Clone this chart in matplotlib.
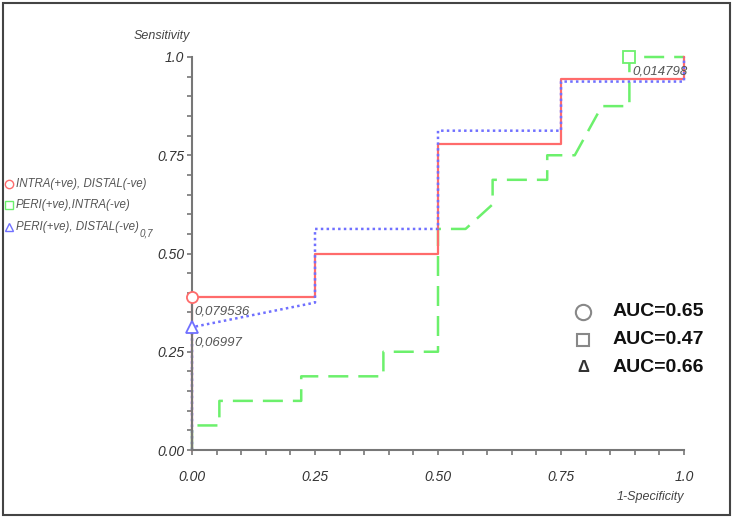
import matplotlib
matplotlib.use("Agg")
import matplotlib.pyplot as plt
from matplotlib.lines import Line2D
from matplotlib.patches import Rectangle
from matplotlib.ticker import MultipleLocator, FixedLocator

plt.rcParams['font.family'] = ['Liberation Sans', 'DejaVu Sans']

# ROC curves (1-specificity, sensitivity)
intra_distal_fpr = [0, 0, 0.25, 0.25, 0.5, 0.5, 0.75, 0.75, 1.0, 1.0]
intra_distal_tpr = [0, 0.389, 0.389, 0.5, 0.5, 0.778, 0.778, 0.944, 0.944, 1.0]

peri_distal_fpr = [0, 0, 0.25, 0.25, 0.5, 0.5, 0.75, 0.75, 1.0, 1.0]
peri_distal_tpr = [0, 0.3125, 0.375, 0.5625, 0.5625, 0.8125, 0.8125, 0.9375, 0.9375, 1.0]

peri_intra_fpr = [0, 0, 0.0556, 0.0556, 0.222, 0.222, 0.389, 0.389, 0.5, 0.5,
                  0.556, 0.611, 0.611, 0.722, 0.722, 0.778, 0.833, 0.889, 0.889, 1.0]
peri_intra_tpr = [0, 0.0625, 0.0625, 0.125, 0.125, 0.1875, 0.1875, 0.25, 0.25, 0.5625,
                  0.5625, 0.625, 0.6875, 0.6875, 0.75, 0.75, 0.875, 0.875, 1.0, 1.0]

# cut-off points
cut_points = [(0, 0.389, "0,079536"), (0, 0.3125, "0,06997"), (0.889, 1.0, "0,014798")]

series_labels = ["INTRA(+ve), DISTAL(-ve)", "PERI(+ve),INTRA(-ve)", "PERI(+ve), DISTAL(-ve)"]
auc_values = [0.65, 0.47, 0.66]

tick_vals = [0, 0.25, 0.5, 0.75, 1.0]
x_tick_labels = ["0.00", "0.25", "0.50", "0.75", "1.0"]
y_tick_labels = ["0.00", "0.25", "0.50", "0.75", "1.0"]

RED = "#ff6b6b"
GREEN = "#6cf06c"
BLUE = "#7070ff"
TXT = "#333333"

fig = plt.figure(figsize=(7.33, 5.17), dpi=100)
ax = fig.add_axes([192/733, 67/517, 492/733, 393/517])

ax.plot(peri_intra_fpr, peri_intra_tpr, color=GREEN, lw=1.8, dashes=(8, 4), clip_on=False)
ax.plot(intra_distal_fpr, intra_distal_tpr, color=RED, lw=1.6, clip_on=False)
ax.plot(peri_distal_fpr, peri_distal_tpr, color=BLUE, lw=1.8, linestyle=(0, (1, 1.3)), clip_on=False)

marker_styles = [("o", RED), ("^", BLUE), ("s", GREEN)]
for (x, y, lab), (m, c) in zip(cut_points, marker_styles):
    ax.plot([x], [y], marker=m, mfc="white", mec=c, ms=8, mew=1.3, clip_on=False, zorder=5)
    ax.annotate(lab, (x, y), xytext=(2, -15), textcoords="offset points", ha="left",
                va="bottom", fontsize=9.5, style="italic", color="#555555")

ax.set_xlim(0, 1)
ax.set_ylim(0, 1)
for s in ["top", "right"]:
    ax.spines[s].set_visible(False)
for s in ["left", "bottom"]:
    ax.spines[s].set_color("#777777")
    ax.spines[s].set_linewidth(1.5)

ax.xaxis.set_major_locator(FixedLocator(tick_vals))
ax.yaxis.set_major_locator(FixedLocator(tick_vals))
ax.set_xticklabels(x_tick_labels)
ax.set_yticklabels(y_tick_labels)
ax.xaxis.set_minor_locator(MultipleLocator(0.05))
ax.yaxis.set_minor_locator(MultipleLocator(0.05))
ax.tick_params(which="both", direction="out", length=3.5, width=1.2, color="#777777")
ax.tick_params(axis="x", which="major", pad=11)
ax.tick_params(axis="y", which="major", pad=2)
for lbl in ax.get_xticklabels() + ax.get_yticklabels():
    lbl.set_fontstyle("italic")
    lbl.set_fontsize(10)
    lbl.set_color(TXT)

fig.text(162/733, 1 - 36/517, "Sensitivity", ha="center", va="center",
         fontsize=9, style="italic", color="#444444")
fig.text(650/733, 1 - 497/517, "1-Specificity", ha="center", va="center",
         fontsize=9, style="italic", color="#444444")

# left legend
leg_y = [184, 205, 227]
leg_markers = [("o", RED), ("s", GREEN), ("^", BLUE)]
for y, lab, (m, c) in zip(leg_y, series_labels, leg_markers):
    fig.add_artist(Line2D([9/733], [1 - y/517], transform=fig.transFigure, marker=m,
                          mfc="none", mec=c, ms=6, mew=1.0, linestyle="none"))
    fig.text(16/733, 1 - y/517, lab, ha="left", va="center", fontsize=8.3,
             style="italic", color="#555555")
fig.text(140/733, 1 - 234/517, "0,7", ha="left", va="center", fontsize=7,
         style="italic", color="#555555")

# AUC box
auc_y = [312, 340, 367]
auc_markers = ["o", "s", None]
for y, auc, m in zip(auc_y, auc_values, auc_markers):
    if m is not None:
        fig.add_artist(Line2D([583/733], [1 - y/517], transform=fig.transFigure, marker=m,
                              mfc="none", mec="#888888", ms=11 if m == "o" else 9, mew=1.5,
                              linestyle="none"))
    else:
        fig.text(583/733, 1 - y/517, "Δ", ha="center", va="center", fontsize=12,
                 fontweight="bold", color="#333333")
    fig.text(613/733, 1 - y/517, f"AUC={auc:.2f}", ha="left", va="center",
             fontsize=14, fontweight="bold", color="#111111")

# outer frame
fig.add_artist(Rectangle((3/733, 2/517), 727/733, 512/517, transform=fig.transFigure,
                         fill=False, edgecolor="#444444", lw=1.5))

fig.savefig("out.png", dpi=100)
